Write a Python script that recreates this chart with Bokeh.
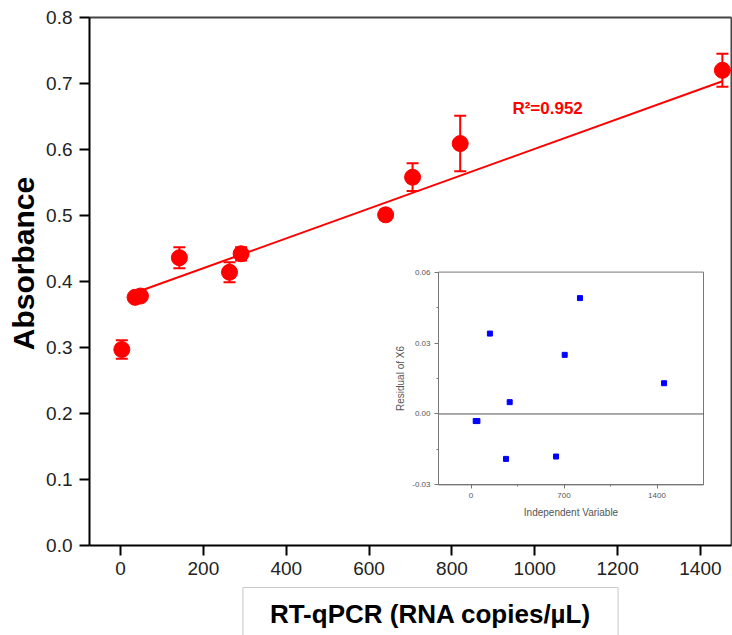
import math
from bokeh.plotting import figure
from bokeh.models import (Range1d, LinearAxis, FixedTicker, Whisker, ColumnDataSource,
                          Label, TeeHead, NumeralTickFormatter)
from bokeh.embed import file_html
from bokeh.resources import INLINE

# ---------------- data ----------------
conc = [3, 35, 48, 142, 263, 291, 640, 705, 820, 1453]
absorbance = [0.297, 0.376, 0.378, 0.436, 0.414, 0.442, 0.501, 0.558, 0.609, 0.720]
abs_err = [0.014, 0.005, 0.005, 0.016, 0.015, 0.010, 0.008, 0.021, 0.042, 0.025]
fit_intercept = 0.375
fit_slope = 0.000226
r_squared_text = "R²=0.952"
residual_x = conc[1:]
residuals = [-0.003, -0.003, 0.034, -0.019, 0.005, -0.018, 0.025, 0.049, 0.013]

main_x_ticks = [0, 200, 400, 600, 800, 1000, 1200, 1400]
main_y_ticks = [0.0, 0.1, 0.2, 0.3, 0.4, 0.5, 0.6, 0.7, 0.8]
x_lo, x_hi = -75, 1475
y_lo, y_hi = 0.0, 0.8
inset_x_ticks = [0, 700, 1400]
inset_x_minor = [350, 1050]
inset_y_ticks = [-0.03, 0.0, 0.03, 0.06]
inset_y_minor = [-0.015, 0.015, 0.045]
inset_x_lo, inset_x_hi = -245, 1750
inset_y_lo, inset_y_hi = -0.03, 0.06

FONT = "Liberation Sans"
RED = "#ff0000"

# ---------------- layout geometry (canvas pixels) ----------------
W, H = 732, 635
BOX_L, BOX_R, BOX_T, BOX_B = 89, 731, 17, 545          # main plot box
IL, IR, IT, IB = 438, 703, 271.6, 484.4                # inset plot box

ux = (x_hi - x_lo) / (BOX_R - BOX_L)
uy = (y_hi - y_lo) / (BOX_B - BOX_T)
x_start, x_end = x_lo - BOX_L * ux, x_hi + (W - BOX_R) * ux
y_start, y_end = y_lo - (H - BOX_B) * uy, y_hi + BOX_T * uy

sx = (inset_x_hi - inset_x_lo) / (IR - IL)
sy = (inset_y_hi - inset_y_lo) / (IB - IT)
ix_start, ix_end = inset_x_lo - IL * sx, inset_x_hi + (W - IR) * sx
iy_start, iy_end = inset_y_lo - (H - IB) * sy, inset_y_hi + IT * sy


def px_x(px):
    return x_start + px * ux


def px_y(py):
    return y_end - py * uy


p = figure(width=W, height=H, output_backend="svg", toolbar_location=None,
           x_range=Range1d(x_start, x_end), y_range=Range1d(y_start, y_end),
           x_axis_type=None, y_axis_type=None, min_border=0)
p.extra_x_ranges = {"ix": Range1d(ix_start, ix_end)}
p.extra_y_ranges = {"iy": Range1d(iy_start, iy_end)}
p.outline_line_color = None
p.background_fill_color = "white"
p.border_fill_color = "white"

# ---------------- main frame and axes ----------------
p.segment(x0=[x_lo, x_hi], y0=[y_hi, y_lo], x1=[x_hi, x_hi], y1=[y_hi, y_hi],
          line_color="#444444", line_width=2)

xa = LinearAxis(fixed_location=y_lo, bounds=(x_lo, x_hi),
                ticker=FixedTicker(ticks=main_x_ticks))
ya = LinearAxis(fixed_location=x_lo, bounds=(y_lo, y_hi),
                ticker=FixedTicker(ticks=main_y_ticks),
                formatter=NumeralTickFormatter(format="0.0"))
for ax in (xa, ya):
    ax.axis_line_color = "black"
    ax.axis_line_width = 2
    ax.major_tick_out = 10
    ax.major_tick_in = 0
    ax.major_tick_line_width = 2
    ax.minor_tick_line_color = None
    ax.major_label_text_font = FONT
    ax.major_label_text_font_size = "19px"
    ax.major_label_text_color = "#222222"
xa.major_label_standoff = 6
ya.major_label_standoff = 7
p.add_layout(xa, "below")
p.add_layout(ya, "left")

# ---------------- inset (residual plot) ----------------
p.quad(left=[inset_x_lo], right=[inset_x_hi], bottom=[inset_y_lo], top=[inset_y_hi],
       x_range_name="ix", y_range_name="iy", fill_color="white",
       line_color="#777777", line_width=1)
p.segment(x0=[inset_x_lo], x1=[inset_x_hi], y0=[0], y1=[0],
          x_range_name="ix", y_range_name="iy", line_color="#555555", line_width=1)
p.scatter(residual_x, residuals, marker="square", size=5, color="#0000ff",
          x_range_name="ix", y_range_name="iy")

iya = LinearAxis(x_range_name="ix", y_range_name="iy", fixed_location=inset_x_lo,
                 bounds=(inset_y_lo, inset_y_hi),
                 ticker=FixedTicker(ticks=inset_y_ticks, minor_ticks=inset_y_minor),
                 formatter=NumeralTickFormatter(format="0.00"),
                 axis_label="Residual of X6")
ixa = LinearAxis(x_range_name="ix", y_range_name="iy", fixed_location=inset_y_lo,
                 bounds=(inset_x_lo, inset_x_hi),
                 ticker=FixedTicker(ticks=inset_x_ticks, minor_ticks=inset_x_minor),
                 axis_label="Independent Variable")
for ax in (iya, ixa):
    ax.axis_line_color = "#777777"
    ax.major_tick_out = 4
    ax.major_tick_in = 0
    ax.minor_tick_out = 2
    ax.minor_tick_in = 0
    ax.major_tick_line_color = "#777777"
    ax.minor_tick_line_color = "#777777"
    ax.major_label_text_font = FONT
    ax.major_label_text_font_size = "8px"
    ax.major_label_text_color = "#555555"
    ax.major_label_standoff = 4
    ax.axis_label_text_font = FONT
    ax.axis_label_text_font_size = "10px"
    ax.axis_label_text_font_style = "normal"
    ax.axis_label_text_color = "#555555"
    ax.axis_label_standoff = 6
iya.axis_label_standoff = 3
p.add_layout(iya, "left")
p.add_layout(ixa, "below")

# ---------------- main data ----------------
fit_x = [conc[1], conc[-1]]
fit_y = [fit_intercept + fit_slope * v for v in fit_x]
p.line(fit_x, fit_y, line_color=RED, line_width=2)

src = ColumnDataSource(dict(
    x=conc, y=absorbance,
    lo=[a - e for a, e in zip(absorbance, abs_err)],
    hi=[a + e for a, e in zip(absorbance, abs_err)]))
wh = Whisker(base="x", lower="lo", upper="hi", source=src, dimension="height",
             line_color=RED, line_width=2,
             upper_head=TeeHead(size=12, line_color=RED, line_width=2),
             lower_head=TeeHead(size=12, line_color=RED, line_width=2))
p.add_layout(wh)
p.scatter("x", "y", source=src, size=16, color=RED)

p.add_layout(Label(x=946, y=0.662, text=r_squared_text, text_color=RED,
                   text_font=FONT, text_font_size="17px", text_font_style="bold",
                   text_baseline="alphabetic"))

# axis titles; padding order is (left, right, top, bottom)
p.add_layout(Label(x=px_x(430), y=px_y(587),
                   text="RT-qPCR (RNA copies/µL)", text_align="center",
                   text_baseline="top", text_font=FONT, text_font_size="26px",
                   text_font_style="bold", text_color="black",
                   border_line_color="#c8c8c8", border_line_width=1,
                   background_fill_color="white", padding=(27, 27, 11, 40)))
p.add_layout(Label(x=px_x(23), y=px_y(263), text="Absorbance", angle=math.pi / 2,
                   text_align="center", text_baseline="middle", text_font=FONT,
                   text_font_size="30px", text_font_style="bold", text_color="black"))

open("out.html", "w").write(file_html(p, INLINE))
